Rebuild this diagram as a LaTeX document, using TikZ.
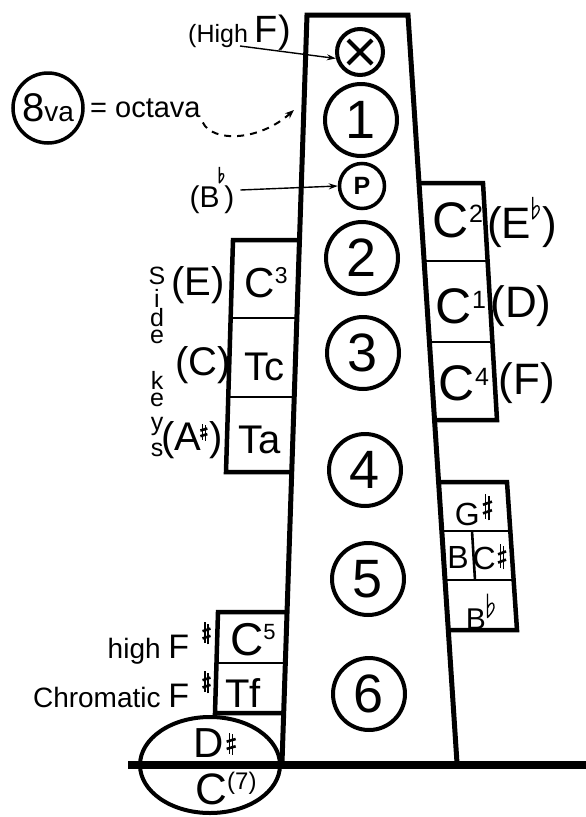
\documentclass[tikz,border=0pt]{standalone}
\usepackage{fontspec}
\setmainfont{Liberation Sans}
\usetikzlibrary{arrows.meta,shapes.geometric}
\newcommand\fsz[1]{\fontsize{#1}{#1}\selectfont}
% drawn accidentals: width, height, lift of bottom above baseline
\newcommand\shp[3]{\raisebox{#3}{\tikz[x=#1,y=#2]{%
  \draw[line width=1.2pt] (0.30,0.06)--(0.30,1) (0.68,0)--(0.68,0.94);
  \draw[line width=2.6pt] (0,0.27)--(1,0.39) (0,0.60)--(1,0.72);}}}
\newcommand\flt[3]{\raisebox{#3}{\tikz[x=#1,y=#2]{%
  \draw[line width=1.3pt, line join=round] (0.12,1)--(0.12,0)
    .. controls (0.6,0.18) and (1,0.4) .. (0.8,0.55)
    .. controls (0.6,0.68) and (0.3,0.55) .. (0.12,0.4);}}}
\newcommand\sups[3]{\raisebox{#2}{\fsz{#1}#3}}
\begin{document}
\begin{tikzpicture}[x=1pt,y=-1pt,
  outline/.style={line width=4.5pt, line join=miter},
  divider/.style={line width=2.6pt},
  hole/.style={circle, draw, line width=4pt, minimum size=72pt, inner sep=0pt, font=\fsz{54}},
  lbl/.style={inner sep=0pt},
  pointer/.style={line width=1.4pt, -{Stealth[length=9pt,width=6pt]}},
]
\useasboundingbox (0,0) rectangle (586,817);

% side key boxes
\draw[outline] (299.4,240) -- (233,240) -- (226,472) -- (291.6,472);
\draw[divider] (230.6,318) -- (296.8,318);
\draw[divider] (228.3,397) -- (294.1,397);

\draw[outline] (419.1,183) -- (483,183) -- (497,420) -- (434.7,420);
\draw[divider] (424.2,261) -- (487.6,261);
\draw[divider] (429.6,342) -- (492.4,342);

\draw[outline] (438.8,482) -- (507,482) -- (517,630) -- (448.6,630);
\draw[divider] (442,531) -- (510.3,531);
\draw[divider] (445.3,580) -- (513.6,580);
\draw[divider] (472,531) -- (475,580);

\draw[outline] (286.9,612) -- (218,612) -- (215,713) -- (283.5,713);
\draw[divider] (216.5,663) -- (285.2,663);

% body
\draw[line width=5pt, line join=miter] (282,763) -- (307,15) -- (408,15) -- (457,763);

% low keys
\node[ellipse, draw, line width=4pt, minimum width=140pt, minimum height=96pt, inner sep=0pt] (ell) at (210,765) {};
\draw[line width=8pt] (128,765) -- (586,765);

% tone holes
\node[hole, minimum size=46pt] (hx) at (360,52) {};
\draw[line width=4pt] ([shift={(-12,-12)}]hx.center) -- ([shift={(12,12)}]hx.center);
\draw[line width=4pt] ([shift={(-12,12)}]hx.center) -- ([shift={(12,-12)}]hx.center);
\node[hole] (h1) at (361,120) {1};
\node[hole, minimum size=45pt, line width=3.5pt, font=\fsz{25}\bfseries] (hp) at (362,186) {P};
\node[hole] (h2) at (362,258) {2};
\node[hole] (h3) at (363,353) {3};
\node[hole] (h4) at (365,470) {4};
\node[hole] (h5) at (368,579) {5};
\node[hole] (h6) at (369,694) {6};

% right upper keys
\node[lbl, font=\fsz{50}] (c2) at (458,220) {C\sups{25}{15pt}{2}};
\node[lbl, font=\fsz{44}] (eb) at (522,222) {(E\hspace{1pt}\flt{9pt}{22pt}{19pt}\hspace{1pt})};
\node[lbl, font=\fsz{50}] (c1) at (461,306) {C\sups{25}{15pt}{1}};
\node[lbl, font=\fsz{44}] (dd) at (521,306) {(D)};
\node[lbl, font=\fsz{50}] (c4) at (464,383) {C\sups{25}{15pt}{4}};
\node[lbl, font=\fsz{44}] (ff) at (527,383) {(F)};

% left side keys
\node[lbl, font=\fsz{42}] (c3) at (266,283) {C\sups{23}{14pt}{3}};
\node[lbl, font=\fsz{40}] (ee) at (198,285) {(E)};
\node[lbl, font=\fsz{40}] (tc) at (264,367) {Tc};
\node[lbl, font=\fsz{40}] (cc) at (203,365) {(C)};
\node[lbl, font=\fsz{40}] (ta) at (260,440) {Ta};
\node[lbl, font=\fsz{40}] (as) at (192,440) {(A\hspace{-2pt}\shp{7pt}{17pt}{9pt}\hspace{1pt})};

% "Side keys", stacked vertically
\node[lbl, align=center, font=\fsz{25}, anchor=north] (side) at (157,267) {S\\[-2pt]i\\[-6pt]d\\[-8pt]e};
\node[lbl, align=center, font=\fsz{25}, anchor=north] (keys) at (157,371) {k\\[-8pt]e\\[-1pt]y\\[1pt]s};

% right lower keys
\node[lbl, font=\fsz{32}] (gs) at (474,510) {G\hspace{2pt}\shp{9pt}{26pt}{5pt}};
\node[lbl, font=\fsz{32}] (bb) at (458,557) {B};
\node[lbl, font=\fsz{32}] (cs) at (490,557) {C\hspace{1pt}\shp{8pt}{25pt}{0pt}};
\node[lbl, font=\fsz{30}] (bfl) at (481,611) {B\hspace{1pt}\flt{9pt}{24pt}{11pt}};

% lower left keys
\node[lbl, font=\fsz{46}] (c5) at (253,640) {C\sups{22}{16pt}{5}};
\node[lbl, font=\fsz{40}] (tf) at (243,693) {Tf};
\node[lbl, font=\fsz{42}] (ds) at (215,743) {D\hspace{2pt}\shp{9pt}{22pt}{2pt}};
\node[lbl, font=\fsz{44}] (c7) at (226,789) {C\sups{24}{15pt}{(7)}};
\node[lbl, anchor=base east] (hfs) at (212,658) {\fsz{28}high \fsz{34}F\hspace{12pt}\shp{8pt}{22pt}{13pt}};
\node[lbl, anchor=base east] (cfs) at (212,707) {\fsz{28}Chromatic \fsz{34}F\hspace{12pt}\shp{8pt}{22pt}{13pt}};

% annotations
\node[lbl, anchor=base east] (hf) at (291,42) {\fsz{25}(High \fsz{38}F)};
\coordinate (hfa) at (240,46);
\draw[pointer] (hfa) -- (hx.195);

\node[lbl, font=\fsz{30}] (bf) at (212,190) {(B\hspace{-1pt}\flt{6pt}{16pt}{24pt}\hspace{-1pt})};
\draw[pointer] ([xshift=6pt]bf.east) -- (hp.west);

\node[circle, draw, line width=3.5pt, minimum size=70pt, inner sep=0pt] (ova) at (48,108) {\fsz{40}8\fsz{28}va};
\node[lbl, anchor=base west, font=\fsz{29}] (oct) at (90,117) {= octava};
\coordinate (dashend) at (294,110);
\draw[line width=2pt, dash pattern=on 7pt off 6pt, -{Stealth[length=9pt,width=7pt]}]
  ([shift={(2,5)}]oct.south east) .. controls (212,142) and (258,142) .. (dashend);
\end{tikzpicture}
\end{document}
